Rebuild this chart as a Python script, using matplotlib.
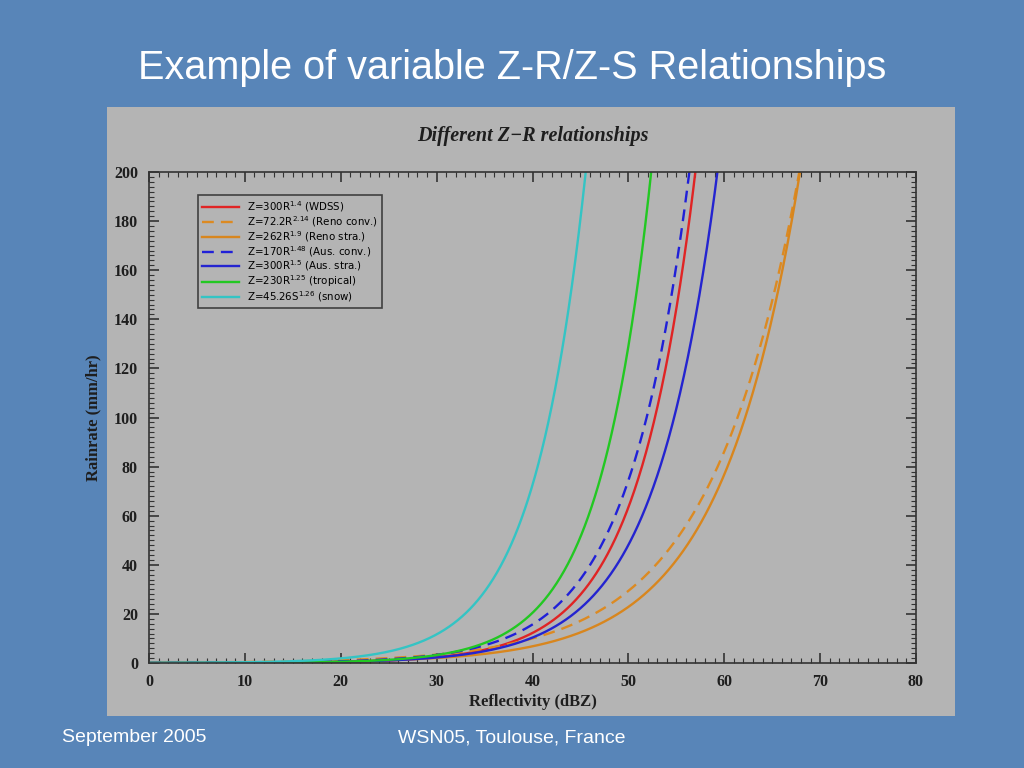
import numpy as np
import matplotlib
matplotlib.use('Agg')
import matplotlib.pyplot as plt
from matplotlib.ticker import MultipleLocator

# Z = a * R^b relationships
labels = ['WDSS', 'Reno conv.', 'Reno stra.', 'Aus. conv.', 'Aus. stra.', 'tropical', 'snow']
coef_a = [300, 72.2, 262, 170, 300, 230, 45.26]
exp_b = [1.4, 2.14, 1.9, 1.48, 1.5, 1.25, 1.26]
symbol = ['R', 'R', 'R', 'R', 'R', 'R', 'S']

colors = ['#e02424', '#dc8a22', '#d8861e', '#2020d8', '#2424d0', '#22c822', '#34c4c4']
styles = ['-', '--', '-', '--', '-', '-', '-']

dbz = np.linspace(0, 80, 1601)

bg = '#5885b8'
panel = '#b4b4b4'

fig = plt.figure(figsize=(10.24, 7.68), dpi=100)
fig.patch.set_facecolor(bg)

# slide title and footer
fig.text(0.5, 1 - 68 / 768, 'Example of variable Z-R/Z-S Relationships', color='white',
         fontsize=28.5, family='Liberation Sans', ha='center', va='center')
fig.text(62 / 1024, 1 - 738 / 768, 'September 2005', color='white', fontsize=14,
         family='Liberation Sans', ha='left', va='center')
fig.text(512 / 1024, 1 - 738 / 768, 'WSN05, Toulouse, France', color='white', fontsize=14,
         family='Liberation Sans', ha='center', va='center')

# gray image panel
pan = fig.add_axes([107 / 1024, 1 - 716 / 768, (955 - 107) / 1024, (716 - 107) / 768])
pan.set_facecolor(panel)
pan.set_xticks([])
pan.set_yticks([])
for s in pan.spines.values():
    s.set_visible(False)

ax = fig.add_axes([149 / 1024, 1 - 663 / 768, (916 - 149) / 1024, (663 - 172) / 768])
ax.set_facecolor(panel)

for i in range(len(labels)):
    Z = 10 ** (dbz / 10.0)
    R = (Z / coef_a[i]) ** (1.0 / exp_b[i])
    lab = 'Z=%g%s$^{%g}$ (%s)' % (coef_a[i], symbol[i], exp_b[i], labels[i])
    if styles[i] == '--':
        ax.plot(dbz, R, color=colors[i], lw=1.7, dashes=(5, 3), label=lab)
    else:
        ax.plot(dbz, R, color=colors[i], lw=1.7, label=lab)

ax.set_xlim(0, 80)
ax.set_ylim(0, 200)
ax.xaxis.set_major_locator(MultipleLocator(10))
ax.xaxis.set_minor_locator(MultipleLocator(1))
ax.yaxis.set_major_locator(MultipleLocator(20))
ax.yaxis.set_minor_locator(MultipleLocator(2))
ax.tick_params(which='both', direction='in', top=True, right=True, colors='#333333')
ax.tick_params(which='major', length=7, width=1.2, pad=8)
ax.tick_params(which='minor', length=3.5, width=0.8)
for lbl in ax.get_xticklabels() + ax.get_yticklabels():
    lbl.set_family('Liberation Serif')
    lbl.set_fontweight('bold')
    lbl.set_fontsize(11.5)
    lbl.set_color('#1e1e1e')
for s in ax.spines.values():
    s.set_color('#333333')
    s.set_linewidth(1.2)

ax.set_xlabel('Reflectivity (dBZ)', family='Liberation Serif', fontweight='bold',
              fontsize=12, color='#1e1e1e', labelpad=3)
ax.set_ylabel('Rainrate (mm/hr)', family='Liberation Serif', fontweight='bold',
              fontsize=12, color='#1e1e1e', labelpad=9)
ax.set_title('Different Z\u2212R relationships', family='Liberation Serif', fontweight='bold',
             style='italic', fontsize=14.5, color='#1e1e1e', pad=22)

leg = ax.legend(loc='upper left', bbox_to_anchor=(0.057, 0.963), fontsize=7.4,
                frameon=True, fancybox=False, framealpha=1, facecolor=panel,
                edgecolor='#404040', handlelength=3.6, labelspacing=0.0,
                borderpad=0.4, handletextpad=0.8)
leg.get_frame().set_linewidth(1.2)

fig.savefig('out.png', dpi=100, facecolor=bg)
